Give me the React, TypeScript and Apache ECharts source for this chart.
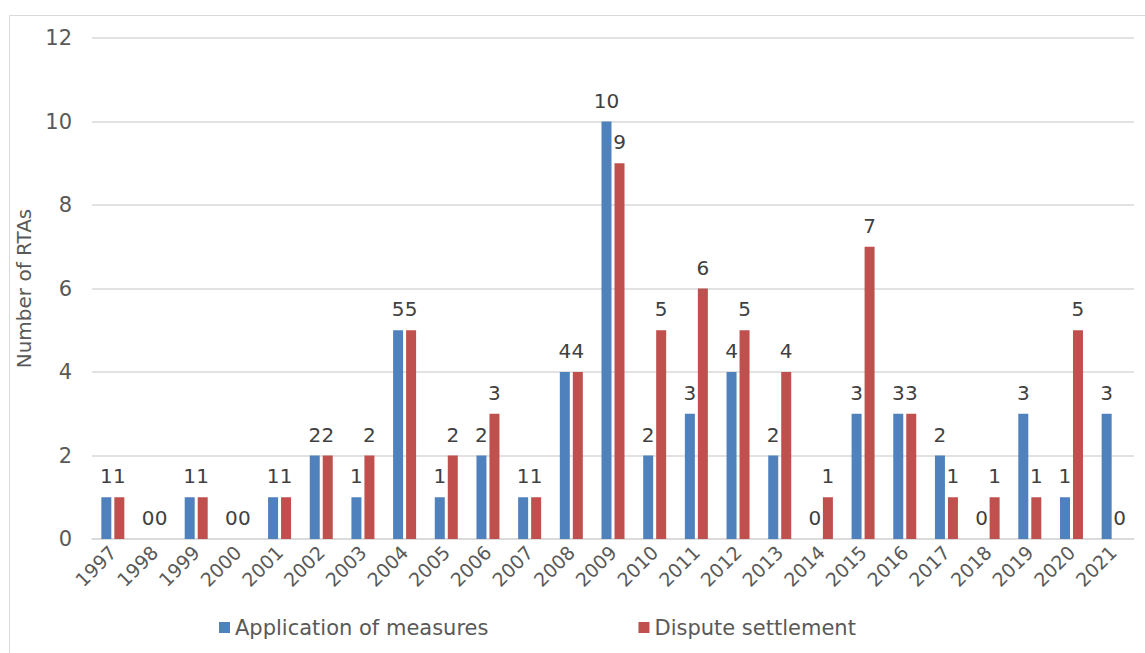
import React, { useEffect, useRef } from "react";
import * as echarts from "echarts";

const years = ["1997","1998","1999","2000","2001","2002","2003","2004","2005","2006","2007","2008","2009","2010","2011","2012","2013","2014","2015","2016","2017","2018","2019","2020","2021"];
const application = [1,0,1,0,1,2,1,5,1,2,1,4,10,2,3,4,2,0,3,3,2,0,3,1,3];
const dispute = [1,0,1,0,1,2,2,5,2,3,1,4,9,5,6,5,4,1,7,3,1,1,1,5,0];
const yTicks = { min: 0, max: 12, interval: 2 };

const FONT = "DejaVu Sans, Verdana, sans-serif";

export default function App() {
  const ref = useRef<HTMLDivElement>(null);
  useEffect(() => {
    const chart = echarts.init(ref.current!, null, { renderer: "svg" });
    const label = { show: true, position: "top", color: "#404040", fontSize: 20, fontFamily: FONT, distance: 11 };
    chart.setOption({
      animation: false,
      backgroundColor: "#fff",
      textStyle: { fontFamily: FONT },
      graphic: [
        { type: "rect", shape: { x: 9.5, y: 15.5, width: 1140, height: 645 }, style: { fill: "none", stroke: "#d9d9d9", lineWidth: 1 }, silent: true },
      ],
      grid: { left: 92, right: 11, top: 38, bottom: 114, containLabel: false },
      legend: {
        bottom: 10,
        left: 214,
        itemWidth: 11,
        itemHeight: 11,
        itemGap: 150,
        icon: "rect",
        textStyle: { color: "#595959", fontSize: 21, fontFamily: FONT },
        data: ["Application of measures", "Dispute settlement"],
      },
      xAxis: {
        type: "category",
        data: years,
        axisLine: { lineStyle: { color: "#d9d9d9", width: 1.5 } },
        axisTick: { show: false },
        axisLabel: { rotate: 45, color: "#595959", fontSize: 19, fontFamily: FONT, margin: 10, interval: 0 },
      },
      yAxis: {
        type: "value",
        min: yTicks.min,
        max: yTicks.max,
        interval: yTicks.interval,
        name: "Number of RTAs",
        nameLocation: "middle",
        nameGap: 55,
        nameTextStyle: { color: "#595959", fontSize: 20, fontFamily: FONT },
        axisLine: { show: false },
        axisTick: { show: false },
        axisLabel: { color: "#595959", fontSize: 21, fontFamily: FONT, margin: 20 },
        splitLine: { lineStyle: { color: "#d9d9d9", width: 1.5 } },
      },
      series: [
        { name: "Application of measures", type: "bar", data: application, barWidth: 10, barGap: "30%", itemStyle: { color: "#4f81bd" }, label },
        { name: "Dispute settlement", type: "bar", data: dispute, barWidth: 10, barGap: "30%", itemStyle: { color: "#c0504d" }, label },
      ],
    });
    return () => chart.dispose();
  }, []);
  return <div ref={ref} style={{ position: "absolute", left: 0, top: 0, width: 1145, height: 653 }} />;
}
